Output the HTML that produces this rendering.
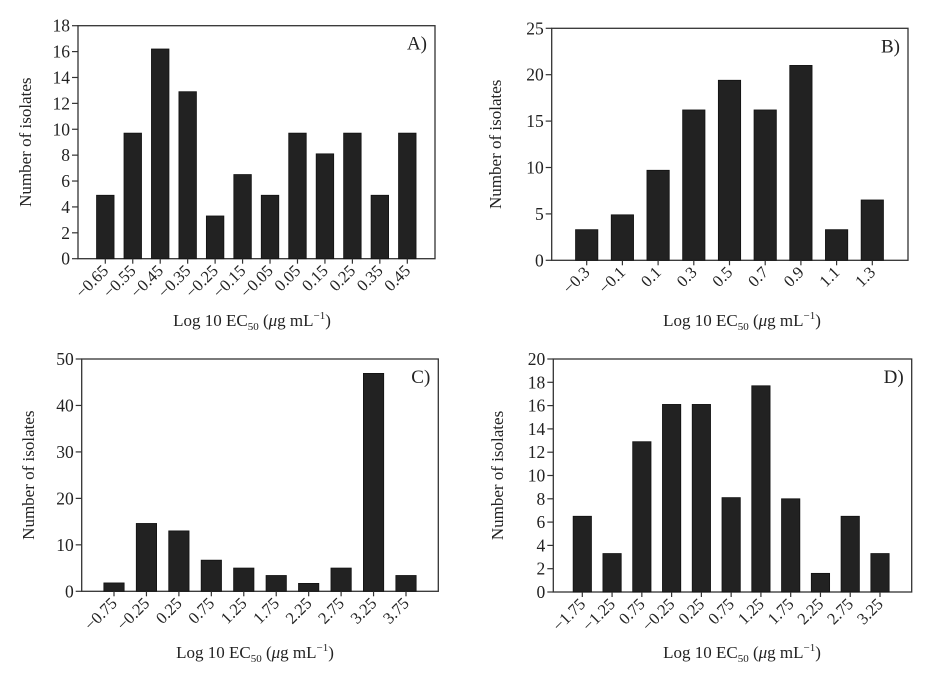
<!DOCTYPE html>
<html><head><meta charset="utf-8"><style>
html,body{margin:0;padding:0;background:#fff;}
svg{display:block;font-family:"Liberation Serif",serif;}
</style></head><body>
<svg id="fig" width="945" height="677" viewBox="0 0 945 677" xmlns="http://www.w3.org/2000/svg"></svg>
<script>
const catsA = ["\u22120.65","\u22120.55","\u22120.45","\u22120.35","\u22120.25","\u22120.15","\u22120.05","0.05","0.15","0.25","0.35","0.45"];
const valsA = [4.9,9.7,16.2,12.9,3.3,6.5,4.9,9.7,8.1,9.7,4.9,9.7];
const ticksA = [0,2,4,6,8,10,12,14,16,18];
const catsB = ["\u22120.3","\u22120.1","0.1","0.3","0.5","0.7","0.9","1.1","1.3"];
const valsB = [3.3,4.9,9.7,16.2,19.4,16.2,21,3.3,6.5];
const ticksB = [0,5,10,15,20,25];
const catsC = ["\u22120.75","\u22120.25","0.25","0.75","1.25","1.75","2.25","2.75","3.25","3.75"];
const valsC = [1.8,14.6,13,6.7,5,3.4,1.7,5,46.9,3.4];
const ticksC = [0,10,20,30,40,50];
const catsD = ["\u22121.75","\u22121.25","0.75","\u22120.25","0.25","0.75","1.25","1.75","2.25","2.75","3.25"];
const valsD = [6.5,3.3,12.9,16.1,16.1,8.1,17.7,8,1.6,6.5,3.3];
const ticksD = [0,2,4,6,8,10,12,14,16,18,20];

const NS="http://www.w3.org/2000/svg";
const svg=document.getElementById('fig');
function mk(tag,attrs,parent,text){const e=document.createElementNS(NS,tag);for(const k in attrs)e.setAttribute(k,attrs[k]);if(text!==undefined)e.textContent=text;parent.appendChild(e);return e;}

function panel(id,label,cats,vals,ticks,box){
  const g=mk('g',{},svg);
  
  
  const ymax=ticks[ticks.length-1];
  const y=v=>box.bottom-(v/ymax)*(box.bottom-box.top);
  const x=i=>box.first+i*(box.last-box.first)/(cats.length-1);
  const frame=mk('rect',{x:box.left,y:box.top,width:box.right-box.left,height:box.bottom-box.top,fill:'none',stroke:'#333',"stroke-width":1.3},g);
  
  
  ticks.forEach(t=>{
    mk('line',{x1:box.left-6,x2:box.left,y1:y(t),y2:y(t),stroke:'#333',"stroke-width":1.2},g);
    const tl=mk('text',{x:box.left-8,y:y(t)+6,"text-anchor":"end","font-size":17.5,fill:'#222'},g,String(t));
    
    
  });
  cats.forEach((c,i)=>{
    const b=mk('rect',{x:x(i)-box.bw/2,y:y(vals[i]),width:box.bw,height:box.bottom-y(vals[i]),fill:'#222',stroke:'#111',"stroke-width":0.8},g);
    
    
    mk('line',{x1:x(i),x2:x(i),y1:box.bottom,y2:box.bottom+5,stroke:'#333',"stroke-width":1.2},g);
    const tl=mk('text',{x:x(i)+4,y:box.bottom+13,"text-anchor":"end","font-size":16.5,fill:'#222',transform:`rotate(-45 ${x(i)+4} ${box.bottom+13})`},g,c);
    
    
  });
  const yt=mk('text',{x:0,y:0,"text-anchor":"middle","font-size":17,fill:'#222',transform:`translate(${box.ytx},${(box.top+box.bottom)/2}) rotate(-90)`},g,'Number of  isolates');
  
  
  const xt=mk('text',{x:box.xtx,y:box.xty,"text-anchor":"middle","font-size":17,fill:'#222'},g);
  
  
  mk('tspan',{},xt,'Log 10 EC');
  mk('tspan',{"font-size":11,dy:4},xt,'50');
  mk('tspan',{dy:-4},xt,' (');
  mk('tspan',{"font-style":"italic"},xt,'\u03bc');
  mk('tspan',{},xt,'g mL');
  mk('tspan',{"font-size":11,dy:-7},xt,'\u22121');
  mk('tspan',{dy:7},xt,')');
  const pl=mk('text',{x:box.right-8,y:box.top+24,"text-anchor":"end","font-size":19,fill:'#222'},g,label);
  
  
}
panel('a','A)',catsA,valsA,ticksA,{left:78,right:435,top:25.7,bottom:258.7,first:105.3,last:407.3,bw:17.5,ytx:31,xtx:252,xty:326});
panel('b','B)',catsB,valsB,ticksB,{left:551.7,right:908,top:28.3,bottom:260.3,first:586.7,last:872.3,bw:22.3,ytx:501,xtx:742,xty:326});
panel('c','C)',catsC,valsC,ticksC,{left:81.7,right:438.3,top:359,bottom:591.3,first:114,last:406,bw:20.3,ytx:34,xtx:255,xty:658});
panel('d','D)',catsD,valsD,ticksD,{left:553.3,right:911.7,top:359,bottom:592,first:582.3,last:880,bw:18.3,ytx:503,xtx:742,xty:658});
</script>
</body></html>
